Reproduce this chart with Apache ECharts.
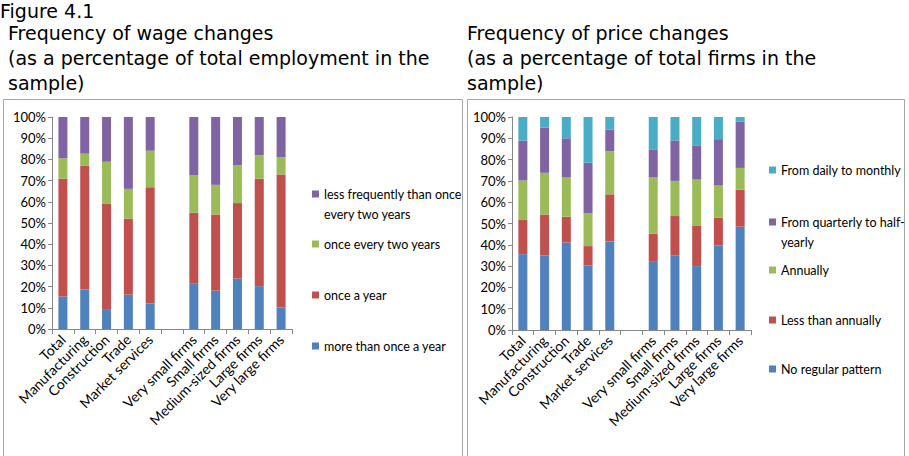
<!DOCTYPE html>
<html>
<head>
<meta charset="utf-8">
<script src="https://cdn.jsdelivr.net/npm/echarts@6/dist/echarts.min.js"></script>
<style>
  html, body { margin: 0; padding: 0; background: #fff; }
  #chart { width: 909px; height: 456px; }
</style>
</head>
<body>
<div id="chart"></div>
<script>
// categories (the blank one is the gap between sectors and firm sizes)
var categories = ['Total', 'Manufacturing', 'Construction', 'Trade', 'Market services', '',
    'Very small firms', 'Small firms', 'Medium-sized firms', 'Large firms', 'Very large firms'];

// wage changes (% of employment)
var wageMoreThanOnce = [15.3, 18.6, 9.4, 16.2, 12.1, '-', 21.6, 18.1, 23.8, 20.2, 10.1];
var wageOnceAYear = [55.6, 58.4, 49.8, 35.9, 54.8, '-', 33.2, 35.9, 35.6, 50.7, 62.8];
var wageEveryTwo = [9.7, 5.7, 19.7, 14.0, 17.2, '-', 17.8, 14.0, 17.9, 11.1, 8.2];
var wageLessFrequent = [19.4, 17.3, 21.1, 33.9, 15.9, '-', 27.4, 32.0, 22.7, 18.0, 18.9];

// price changes (% of firms)
var priceNoPattern = [35.6, 35.0, 41.1, 30.3, 41.6, '-', 32.0, 34.9, 30.0, 39.7, 48.5];
var priceLessAnnual = [16.3, 19.2, 12.1, 9.1, 22.1, '-', 13.2, 18.6, 19.1, 13.0, 17.4];
var priceAnnual = [18.3, 19.6, 18.4, 15.4, 20.3, '-', 26.4, 16.5, 21.5, 15.1, 10.2];
var priceQuarterly = [18.7, 21.2, 18.4, 23.7, 10.0, '-', 13.2, 19.0, 16.1, 21.8, 21.7];
var priceDaily = [11.1, 5.0, 10.0, 21.5, 6.0, '-', 15.2, 11.0, 13.3, 10.4, 2.2];

var colBlue = '#4F81BD', colRed = '#C0504D', colGreen = '#9BBB59',
    colPurple = '#8064A2', colCyan = '#4BACC6';

var chartDom = document.getElementById('chart');
var myChart = echarts.init(chartDom, null, { renderer: 'svg' });

var labelFont = 'Lato, "Open Sans", sans-serif';
var titleFont = '19px "DejaVu Sans", Verdana, sans-serif';

function xAxisFor(idx) {
    return {
        type: 'category',
        gridIndex: idx,
        data: categories,
        axisLine: { lineStyle: { color: '#868686' } },
        axisTick: { show: true, length: 5, lineStyle: { color: '#868686' } },
        axisLabel: {
            rotate: 45, interval: 0, color: '#000', fontSize: 14,
            fontFamily: labelFont, margin: 8
        }
    };
}

function yAxisFor(idx) {
    return {
        type: 'value',
        gridIndex: idx,
        min: 0, max: 100, interval: 10,
        splitLine: { show: false },
        axisLine: { show: true, lineStyle: { color: '#868686' } },
        axisTick: { show: true, length: 4, lineStyle: { color: '#868686' } },
        axisLabel: {
            formatter: '{value}%', color: '#000', fontSize: 13,
            fontFamily: labelFont, margin: 6
        }
    };
}

function barSeries(name, data, color, idx, stack) {
    return {
        name: name,
        type: 'bar',
        stack: stack,
        xAxisIndex: idx,
        yAxisIndex: idx,
        barWidth: 9,
        itemStyle: { color: color },
        data: data
    };
}

// one legend per entry so each can sit where the reference puts it;
// two-line entries get an empty first row so the marker lines up with the first text line
function oneLegend(name, left, top, twoLines) {
    return {
        data: [name],
        left: left,
        top: top,
        orient: 'vertical',
        itemWidth: 7,
        itemHeight: 7,
        itemGap: 0,
        icon: 'rect',
        selectedMode: false,
        padding: 0,
        formatter: function(n) {
            return twoLines ? '\n' + n : n;
        },
        textStyle: { fontSize: 12.5, fontFamily: labelFont, color: '#000', lineHeight: 20 }
    };
}

var option = {
    animation: false,
    grid: [
        { left: 52, top: 117, width: 240, height: 212 },
        { left: 512, top: 117, width: 239, height: 213 }
    ],
    xAxis: [xAxisFor(0), xAxisFor(1)],
    yAxis: [yAxisFor(0), yAxisFor(1)],
    legend: [
        oneLegend('less frequently than once\nevery two years', 312, 164, true),
        oneLegend('once every two years', 312, 234),
        oneLegend('once a year', 312, 285),
        oneLegend('more than once a year', 312, 336),
        oneLegend('From daily to monthly', 769, 160),
        oneLegend('From quarterly to half-\nyearly', 769, 192, true),
        oneLegend('Annually', 769, 260),
        oneLegend('Less than annually', 769, 310),
        oneLegend('No regular pattern', 769, 359)
    ],
    series: [
        barSeries('more than once a year', wageMoreThanOnce, colBlue, 0, 'wage'),
        barSeries('once a year', wageOnceAYear, colRed, 0, 'wage'),
        barSeries('once every two years', wageEveryTwo, colGreen, 0, 'wage'),
        barSeries('less frequently than once\nevery two years', wageLessFrequent, colPurple, 0, 'wage'),
        barSeries('No regular pattern', priceNoPattern, colBlue, 1, 'price'),
        barSeries('Less than annually', priceLessAnnual, colRed, 1, 'price'),
        barSeries('Annually', priceAnnual, colGreen, 1, 'price'),
        barSeries('From quarterly to half-\nyearly', priceQuarterly, colPurple, 1, 'price'),
        barSeries('From daily to monthly', priceDaily, colCyan, 1, 'price')
    ],
    graphic: [
        // chart frames
        { type: 'rect', shape: { x: 3.5, y: 99.5, width: 459, height: 420 },
          style: { fill: 'none', stroke: '#a6a6a6', lineWidth: 1 } },
        { type: 'rect', shape: { x: 467.5, y: 99.5, width: 437, height: 420 },
          style: { fill: 'none', stroke: '#a6a6a6', lineWidth: 1 } },
        // titles
        { type: 'text', style: { text: 'Figure 4.1', x: 0, y: 11, font: titleFont, fill: '#000', textVerticalAlign: 'middle' } },
        { type: 'text', style: { text: 'Frequency of wage changes', x: 8, y: 33, font: titleFont, fill: '#000', textVerticalAlign: 'middle' } },
        { type: 'text', style: { text: '(as a percentage of total employment in the', x: 8, y: 58, font: titleFont, fill: '#000', textVerticalAlign: 'middle' } },
        { type: 'text', style: { text: 'sample)', x: 8, y: 83, font: titleFont, fill: '#000', textVerticalAlign: 'middle' } },
        { type: 'text', style: { text: 'Frequency of price changes', x: 467, y: 33, font: titleFont, fill: '#000', textVerticalAlign: 'middle' } },
        { type: 'text', style: { text: '(as a percentage of total firms in the', x: 467, y: 58, font: titleFont, fill: '#000', textVerticalAlign: 'middle' } },
        { type: 'text', style: { text: 'sample)', x: 467, y: 83, font: titleFont, fill: '#000', textVerticalAlign: 'middle' } }
    ]
};

option && myChart.setOption(option);
</script>
</body>
</html>
